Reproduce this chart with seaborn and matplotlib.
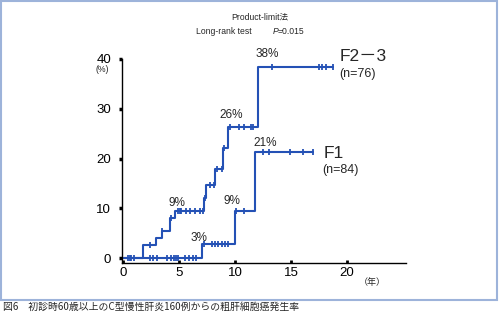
import numpy as np
import pandas as pd
import matplotlib
matplotlib.use("Agg")
import matplotlib.pyplot as plt
from matplotlib.patches import Rectangle
import seaborn as sns

# Cumulative incidence (%) by follow-up year, step points (Kaplan-Meier style)
f23_time = [0.1, 1.75, 2.9, 3.45, 4.2, 4.65, 7.2, 7.4, 8.25, 8.9, 9.4, 12.1, 18.8]
f23_pct = [0, 2.7, 4.0, 5.5, 8.0, 9.4, 12.1, 14.6, 18.0, 22.1, 26.4, 38.4, 38.4]
f1_time = [0.1, 7.0, 10.0, 11.8, 17.0]
f1_pct = [0, 2.9, 9.4, 21.4, 21.4]

# Censored observations (years)
f23_censor = [0.6, 2.4, 3.45, 4.3, 4.9, 5.05, 5.2, 5.65, 5.95, 6.4, 6.85, 7.1,
              7.3, 7.75, 8.1, 8.35, 8.85, 9.0, 9.55, 10.35, 10.8, 11.4, 11.65,
              13.3, 17.5, 17.8, 18.1, 18.8]
f1_censor = [0.4, 0.7, 1.0, 2.4, 2.7, 3.0, 3.9, 4.3, 4.5, 4.7, 4.9, 5.5, 5.9,
             6.2, 6.5, 7.2, 7.9, 8.2, 8.5, 8.8, 9.1, 9.4, 10.1, 10.8, 12.5,
             13.0, 14.9, 16.1, 17.0]

groups = ["F2－3", "F1"]
group_n = [76, 84]
x_ticks = [0, 5, 10, 15, 20]
y_ticks = [0, 10, 20, 30, 40]
p_value = "0.015"

blue = "#2451b5"
latin = ["Liberation Sans", "Noto Sans CJK JP"]
cjk = ["Noto Sans CJK JP", "DejaVu Sans"]

sns.set_style("ticks")
plt.rcParams["font.family"] = latin


def step_value(times, pcts, t):
    idx = np.searchsorted(times, t, side="right") - 1
    return np.asarray(pcts)[idx]


curves = pd.concat([
    pd.DataFrame({"year": f23_time, "pct": f23_pct, "group": groups[0]}),
    pd.DataFrame({"year": f1_time, "pct": f1_pct, "group": groups[1]}),
])
censors = pd.concat([
    pd.DataFrame({"year": f23_censor,
                  "pct": step_value(f23_time, f23_pct, f23_censor),
                  "group": groups[0]}),
    pd.DataFrame({"year": f1_censor,
                  "pct": step_value(f1_time, f1_pct, f1_censor),
                  "group": groups[1]}),
])

fig = plt.figure(figsize=(5, 3.28), dpi=100)
ax = fig.add_axes([0.2432, 0.1982, 0.5688, 0.6234])

sns.lineplot(data=curves, x="year", y="pct", hue="group",
             palette=[blue, blue], drawstyle="steps-post", estimator=None,
             sort=False, lw=1.5, legend=False, ax=ax)
for g in groups:
    sub = censors[censors.group == g]
    ax.plot(sub.year, sub.pct, ls="none", marker="|", ms=5, mew=1.3,
            color=blue, clip_on=False)

ax.set_xlim(-0.15, 25.3)
ax.set_ylim(-0.9, 40)
ax.set_xticks(x_ticks)
ax.set_yticks(y_ticks)
ax.set_xlabel("")
ax.set_ylabel("")
for s in ["top", "right"]:
    ax.spines[s].set_visible(False)
for s in ["left", "bottom"]:
    ax.spines[s].set_linewidth(1.0)
    ax.spines[s].set_color("black")
ax.tick_params(axis="y", direction="out", length=2.5, width=2.5, pad=5,
               labelsize=9.5, colors="black")
ax.tick_params(axis="x", direction="in", length=2.5, width=2, pad=3,
               labelsize=9.5, colors="black")

# Percent labels at the start of each plateau
def pct_label(t, v, dx, dy):
    ax.annotate(f"{round(v)}%", xy=(t, v), xytext=(dx, dy),
                textcoords="offset points", ha="center", va="center",
                fontsize=8.5, annotation_clip=False)

pct_label(f23_time[5], f23_pct[5], 1.3, 6.1)
pct_label(f23_time[10], f23_pct[10], 1.9, 8.3)
pct_label(f23_time[11], f23_pct[11], 6.5, 9.0)
pct_label(f1_time[1], f1_pct[1], -1.8, 4.3)
pct_label(f1_time[2], f1_pct[2], -2.2, 7.3)
pct_label(f1_time[3], f1_pct[3], 7.2, 6.1)

# Group names with sample sizes at the end of each curve
ends = [(f23_time[-1], f23_pct[-1], 4.8, 7.0, 4.1, -5.4),
        (f1_time[-1], f1_pct[-1], 7.2, -1.1, 6.5, -13.0)]
for g, n, (t, v, gx, gy, nx, ny) in zip(groups, group_n, ends):
    ax.annotate(g, xy=(t, v), xytext=(gx, gy), textcoords="offset points",
                ha="left", va="center", fontsize=12.5, annotation_clip=False)
    ax.annotate(f"(n={n})", xy=(t, v), xytext=(nx, ny),
                textcoords="offset points", ha="left", va="center",
                fontsize=9, annotation_clip=False)

fig.text(102 / 500, 1 - 70 / 328, "(%)", ha="center", va="center",
         fontsize=6.3)
fig.text(372 / 500, 1 - 282.5 / 328, "（年）", ha="center", va="center",
         fontsize=6.5, family=cjk)

fig.text(260 / 500, 1 - 17 / 328, "Product-limit法", ha="center",
         va="center", fontsize=6.2)
fig.text(196 / 500, 1 - 31 / 328, "Long-rank test", ha="left",
         va="center", fontsize=6.2)
fig.text(273 / 500, 1 - 31 / 328, "P", ha="left", va="center",
         fontsize=6.2, style="italic")
fig.text(278 / 500, 1 - 31 / 328, f"={p_value}", ha="left", va="center",
         fontsize=6.2)

fig.text(3 / 500, 1 - 307 / 328,
         "図6　初診時60歳以上のC型慢性肝炎160例からの粗肝細胞癌発生率",
         ha="left", va="center", fontsize=7.1, family=cjk)

fig.add_artist(Rectangle((0.002, 0.0854), 0.992, 0.913,
                         transform=fig.transFigure, fill=False,
                         ec="#9db3da", lw=1.5))

fig.savefig("out.png", dpi=100)
